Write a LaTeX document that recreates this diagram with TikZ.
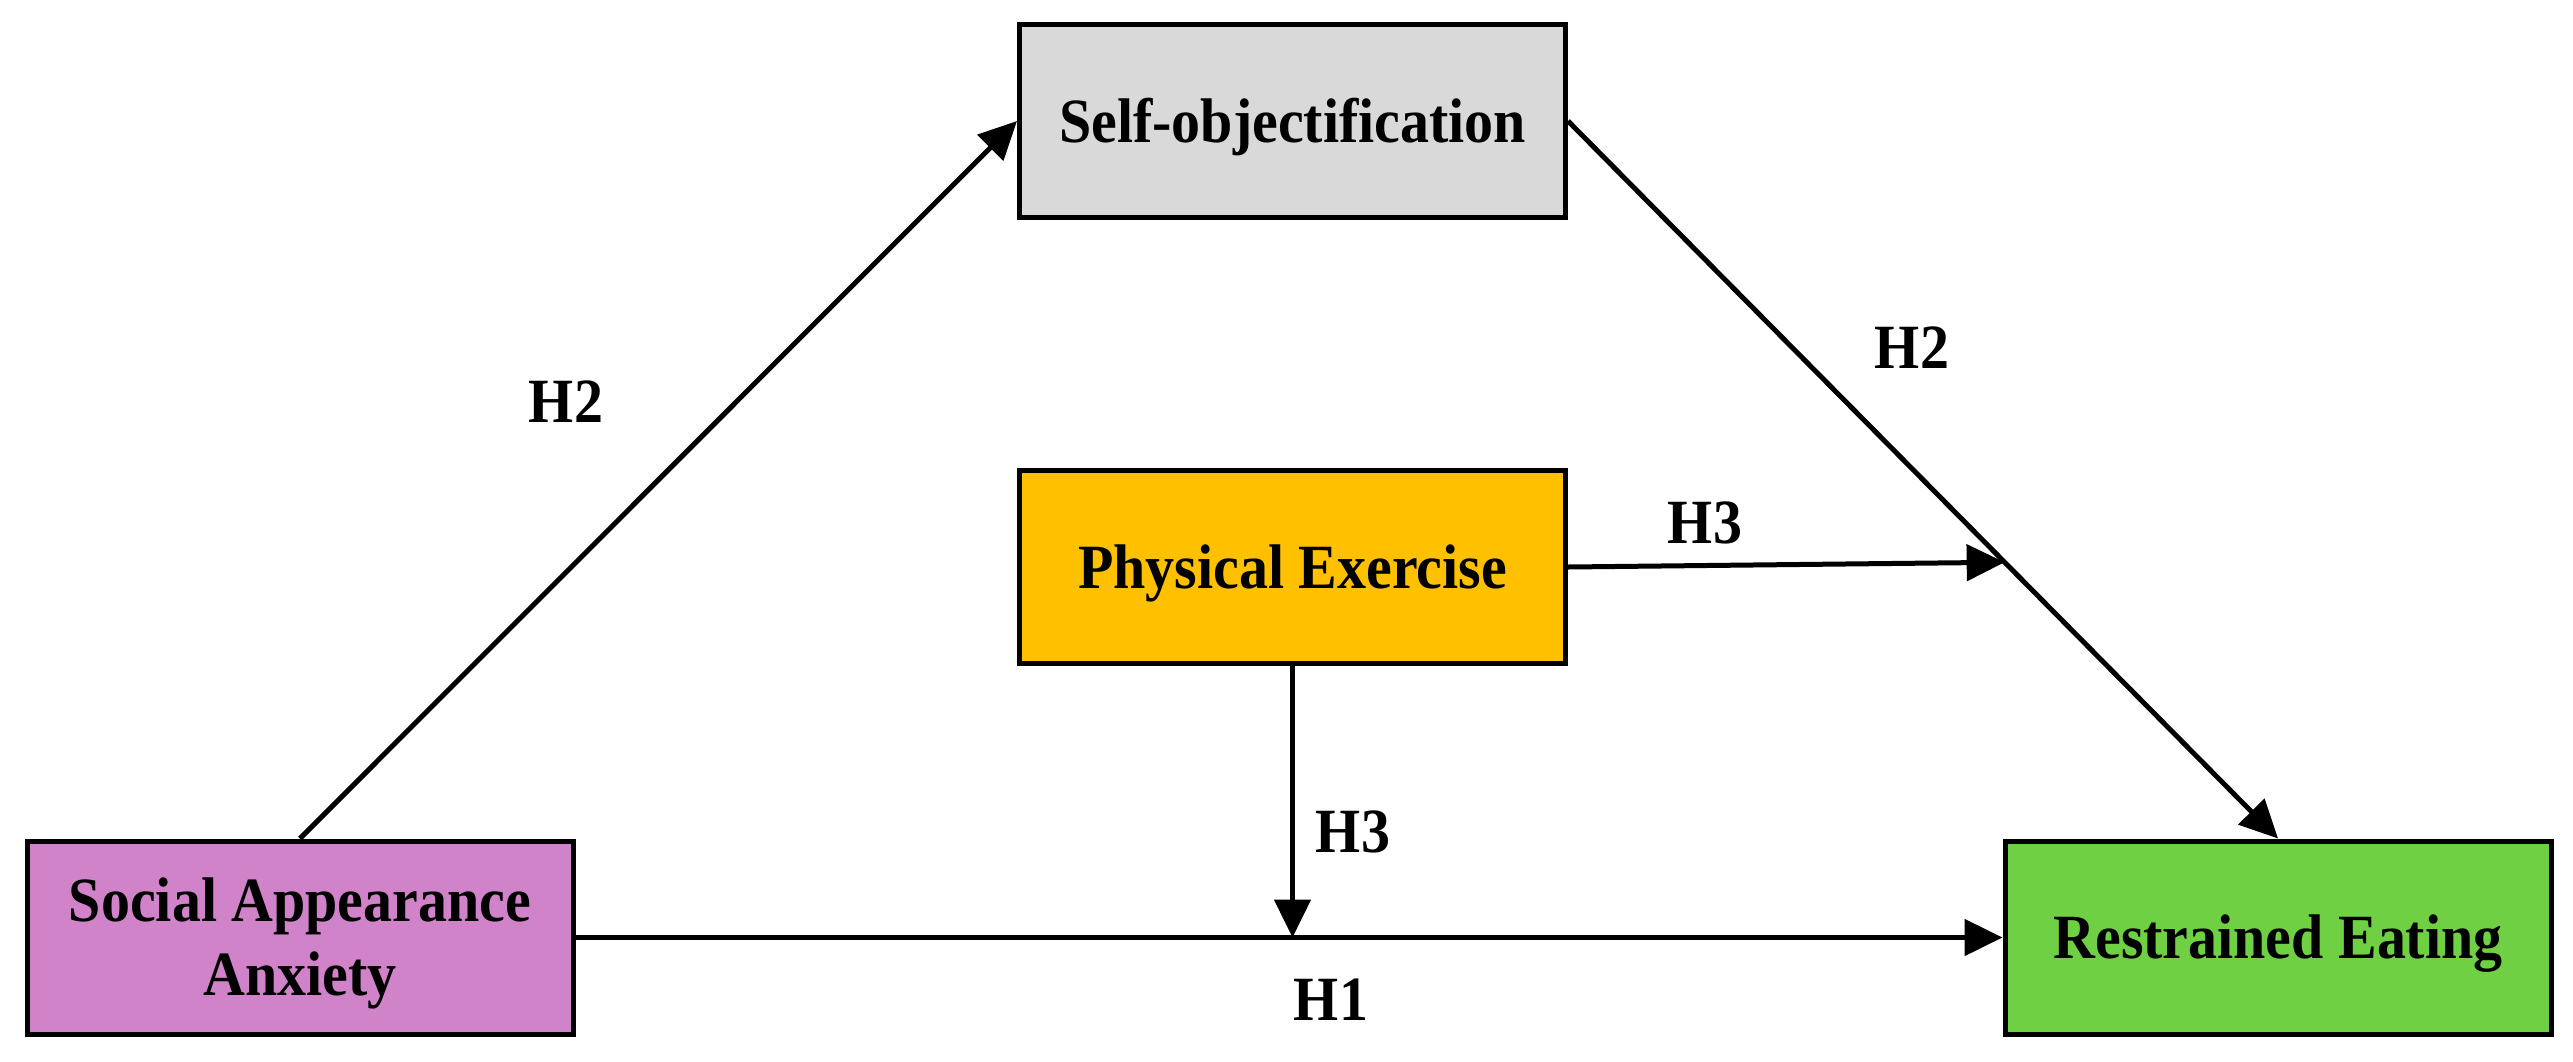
\documentclass[tikz,border=0pt]{standalone}
\usepackage{fontspec}
\newfontfamily\tnr{Liberation Serif}[FakeStretch=0.92]
\usetikzlibrary{arrows.meta,calc}
\definecolor{saac}{HTML}{D083C8}
\definecolor{rec}{HTML}{6FD044}
\definecolor{soc}{HTML}{D9D9D9}
\definecolor{pec}{HTML}{FFC000}
\tikzset{
  box/.style={draw=black, line width=5pt, minimum width=546pt, minimum height=193pt,
    inner sep=0pt, font=\tnr\bfseries\fontsize{63}{74}\selectfont},
  onebox/.style={box, text height=42pt, text depth=0pt},
  lab/.style={inner sep=0pt, font=\tnr\bfseries\fontsize{63}{74}\selectfont},
  conn/.style={line width=5pt, -{Triangle[length=38pt,width=36pt]}},
}
\begin{document}
\begin{tikzpicture}[x=1pt,y=-1pt]
\useasboundingbox (0,0) rectangle (2573,1061);
\node[box, fill=saac] (saa) at (300,937.5)
  {\raisebox{-6pt}[\height][\depth]{\begin{tabular}{@{}c@{}}Social Appearance\\Anxiety\end{tabular}}};
\node[onebox, fill=rec] (re) at (2278,937.5) {Restrained Eating};
\node[onebox, fill=soc] (so) at (1292.5,121) {Self-objectification};
\node[onebox, fill=pec] (pe) at (1292.5,567) {Physical Exercise};
\coordinate (m) at ($(so.east)!0.615!(re.north)$);
\draw[conn] (saa.north) -- (so.west);
\draw[conn] (so.east) -- (re.north);
\draw[conn] (pe.east) -- (m);
\draw[conn] (saa.east) -- (re.west);
\draw[conn] (pe.south) -- (pe.south |- saa.east);
\node[lab] (h2a) at (566,402) {H2};
\node[lab] (h2b) at (1912,348) {H2};
\node[lab] (h3a) at (1705,523) {H3};
\node[lab] (h3b) at (1353,832) {H3};
\node[lab] (h1) at (1331,1000) {H1};
\end{tikzpicture}
\end{document}
